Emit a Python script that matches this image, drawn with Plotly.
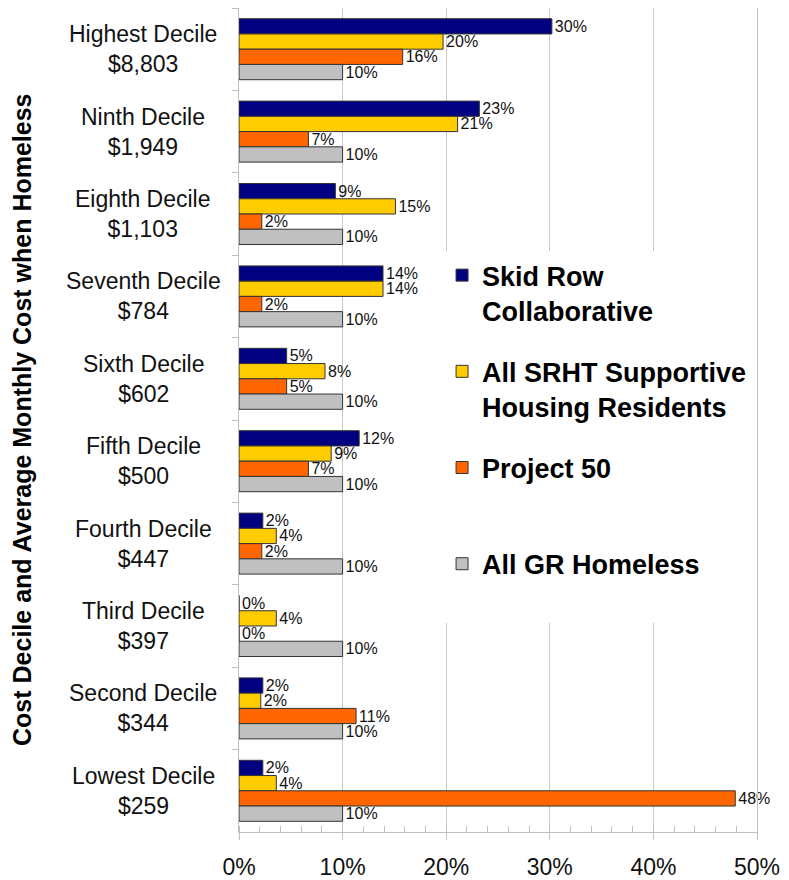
import plotly.graph_objects as go

deciles = ["Highest Decile", "Ninth Decile", "Eighth Decile", "Seventh Decile", "Sixth Decile",
           "Fifth Decile", "Fourth Decile", "Third Decile", "Second Decile", "Lowest Decile"]
avg_cost = ["$8,803", "$1,949", "$1,103", "$784", "$602", "$500", "$447", "$397", "$344", "$259"]

skid_row = [0.302, 0.232, 0.093, 0.139, 0.046, 0.116, 0.023, 0.0, 0.023, 0.023]
srht = [0.197, 0.211, 0.151, 0.139, 0.083, 0.089, 0.036, 0.036, 0.021, 0.036]
project50 = [0.158, 0.067, 0.022, 0.022, 0.046, 0.067, 0.022, 0.0, 0.113, 0.479]
gr_homeless = [0.10, 0.10, 0.10, 0.10, 0.10, 0.10, 0.10, 0.10, 0.10, 0.10]

series = [
    ("Skid Row<br>Collaborative", skid_row, "#000080"),
    ("All SRHT Supportive<br>Housing Residents", srht, "#FFCC00"),
    ("Project 50<br> ", project50, "#FF6600"),
    ("All GR Homeless<br> ", gr_homeless, "#C0C0C0"),
]

FONT = "Liberation Sans, Arial, sans-serif"

fig = go.Figure()
for i, (name, vals, color) in enumerate(series):
    fig.add_trace(go.Bar(
        y=deciles, x=vals, name=name, orientation="h",
        marker=dict(color=color, line=dict(color="#333333", width=1)),
        texttemplate="%{x:.0%}", textposition="outside",
        textfont=dict(size=16, color="#111111", family=FONT),
        constraintext="none", cliponaxis=False, legendgroup=str(i),
    ))

# category labels, centered two-line
for d, c in zip(deciles, avg_cost):
    fig.add_annotation(x=-0.1853, xref="paper", y=d, yref="y", text=d + "<br>" + c,
                       showarrow=False, align="center", xanchor="center",
                       font=dict(size=23, color="#111111", family=FONT))

fig.add_annotation(x=-0.419, xref="paper", y=0.5, yref="paper", textangle=-90,
                   text="<b>Cost Decile and Average Monthly Cost when Homeless</b>",
                   showarrow=False, xanchor="center", yanchor="middle",
                   font=dict(size=25, color="#000000", family=FONT))

fig.update_layout(
    width=789, height=880,
    margin=dict(l=231, r=40, t=0, b=56),
    barmode="group", bargap=0.26, bargroupgap=0,
    plot_bgcolor="white", paper_bgcolor="white",
    font=dict(family=FONT, color="#111111"),
    legend=dict(x=0.392, y=0.705, xanchor="left", yanchor="top",
                bgcolor="white", valign="top", traceorder="grouped",
                tracegroupgap=23,
                font=dict(size=27, color="#000000", family=FONT, weight="bold")),
    xaxis=dict(range=[0, 0.5], dtick=0.1, tickformat=".0%",
               showgrid=True, gridcolor="#c8c8c8", gridwidth=1,
               showline=True, linecolor="#c0c0c0", mirror=True,
               ticks="outside", ticklen=7, tickcolor="#c0c0c0",
               minor=dict(ticks="inside", dtick=0.02, ticklen=6, tickcolor="#c0c0c0", showgrid=False),
               tickfont=dict(size=23, color="#111111", family=FONT),
               ticklabelstandoff=7, zeroline=False),
    yaxis=dict(autorange="reversed", showticklabels=False, showgrid=False,
               showline=True, linecolor="#c0c0c0", mirror=True,
               ticks="outside", ticklen=6, tickcolor="#c0c0c0", tickson="boundaries"),
)

fig.write_html("out.html")
